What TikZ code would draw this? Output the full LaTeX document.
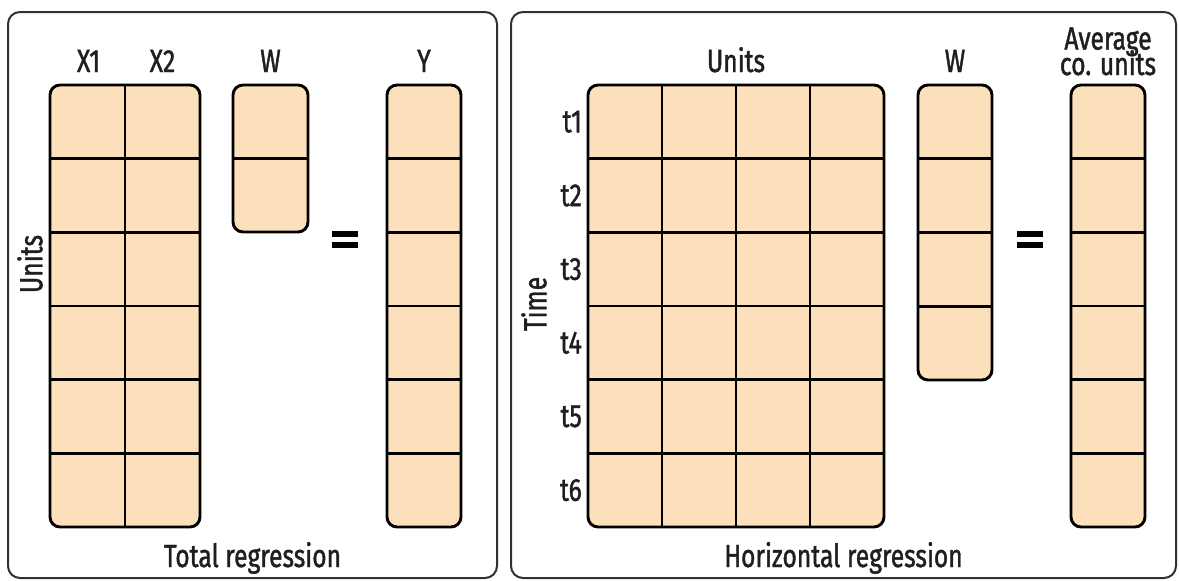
\documentclass[tikz,border=0pt]{standalone}
\usepackage{fontspec}
\setmainfont[FakeStretch=0.77,FakeBold=1.3]{Fira Sans}
\usetikzlibrary{calc}
\definecolor{peach}{HTML}{FCDFBB}
\definecolor{frame}{HTML}{303030}
\tikzset{
  mat/.style={draw=black, line width=2.9pt, fill=peach, rounded corners=10pt, inner sep=0pt, outer sep=0pt},
  gridline/.style={draw=black, line width=2.9pt},
  panel/.style={draw=frame, line width=2pt, rounded corners=12pt},
  lbl/.style={font=\fontsize{32}{22}\selectfont, inner sep=0pt, text=black!88},
  eqbar/.style={fill=black, draw=none},
}
\newcommand{\mygrid}[3]{% node, cols, rows
  \foreach \i in {1,...,#3}{\ifnum\i<#3
    \draw[gridline] ($(#1.north west)!\i/#3!(#1.south west)$) -- ($(#1.north east)!\i/#3!(#1.south east)$);\fi}
  \foreach \j in {1,...,#2}{\ifnum\j<#2
    \draw[gridline] ($(#1.north west)!\j/#2!(#1.north east)$) -- ($(#1.south west)!\j/#2!(#1.south east)$);\fi}
}
\begin{document}
\begin{tikzpicture}[x=1pt,y=-1pt]
\useasboundingbox (0,0) rectangle (1179,581);
% panels
\draw[panel] (8,12) rectangle (497,578);
\draw[panel] (511,12) rectangle (1176,578);

% left panel matrices
\node[mat, minimum width=150pt, minimum height=442pt] (X) at (125,306) {};
\mygrid{X}{2}{6}
\node[mat, minimum width=75pt, minimum height=147pt] (WL) at (270.5,158.5) {};
\mygrid{WL}{1}{2}
\node[mat, minimum width=74pt, minimum height=442pt] (Y) at (424,306) {};
\mygrid{Y}{1}{6}

% left labels
\node[lbl, anchor=base] (lx1) at (88.5,72) {X1};
\node[lbl, anchor=base] (lx2) at (162.5,72) {X2};
\node[lbl, anchor=base] (lwl) at (270.5,72) {W};
\node[lbl, anchor=base] (ly) at (424,72) {Y};
\node[lbl, rotate=90] (lunits) at (30,264) {Units};
\node[lbl, anchor=base] (ltot) at (252.5,567) {Total regression};
\fill[eqbar] (332,231) rectangle (358,236.5);
\fill[eqbar] (332,242) rectangle (358,247.5);

% right panel matrices
\node[mat, minimum width=296pt, minimum height=442pt] (U) at (736,306) {};
\mygrid{U}{4}{6}
\node[mat, minimum width=74pt, minimum height=295pt] (WR) at (955,232.5) {};
\mygrid{WR}{1}{4}
\node[mat, minimum width=74pt, minimum height=442pt] (A) at (1108,306) {};
\mygrid{A}{1}{6}

% right labels
\node[lbl, anchor=base] (lu) at (736,72) {Units};
\node[lbl, anchor=base] (lwr) at (955,72) {W};
\node[lbl, anchor=base] (lavg1) at (1108,49.5) {Average};
\node[lbl, anchor=base] (lavg2) at (1108,75) {co. units};
\foreach \k in {1,...,6}{
  \node[lbl, anchor=east] (t\k) at (582,{85+(\k-0.5)*442/6}) {t\k};
}
\node[lbl, rotate=90] (ltime) at (534,304) {Time};
\node[lbl, anchor=base] (lhor) at (843.5,567) {Horizontal regression};
\fill[eqbar] (1017,231) rectangle (1043,236.5);
\fill[eqbar] (1017,242) rectangle (1043,247.5);
\end{tikzpicture}
\end{document}
